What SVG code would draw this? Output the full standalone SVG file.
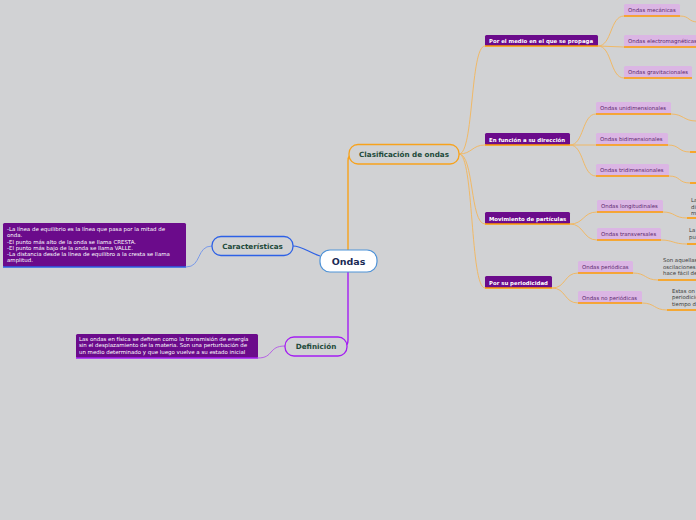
<svg xmlns="http://www.w3.org/2000/svg" width="696" height="520" viewBox="0 0 696 520">
<style>
text{font-family:"DejaVu Sans","Liberation Sans",sans-serif}
.main{fill:#d1d2d4;stroke-width:1.3}
.mt{font-weight:bold;fill:#1d4a3a;font-size:7.2px}
.l2 rect{fill:#6b0b8b}
.l2 text{fill:#fff;font-weight:bold;font-size:5.4px}
.l3 rect{fill:#dbb6e4}
.l3 text{fill:#5b2a6e;font-size:5.4px}
.ul{stroke:#ff9a00;stroke-width:1.6}
.thin{fill:none;stroke:#f3b55a;stroke-width:0.9}
.box text{fill:#fff;font-size:5.45px}
.l4 text{fill:#3a3a3a;font-size:5.4px}
</style>
<rect width="696" height="520" fill="#d1d2d4"/>
<g id="connectors">
<path d="M348,250 V161 Q348,154 354,154" fill="none" stroke="#f7a21c" stroke-width="1.4"/>
<path d="M348,272 V340 Q348,346 344,346" fill="none" stroke="#a41ef2" stroke-width="1.4"/>
<path d="M320,256 C308,252 302,246 293,246" fill="none" stroke="#2d61e6" stroke-width="1.2"/>
<path d="M186,267 C202,267 196,246 212,246" fill="none" stroke="#6f93ea" stroke-width="0.9"/>
<path d="M258,358 C274,358 268,346 285,346" fill="none" stroke="#b254e6" stroke-width="0.9"/>
<path class="thin" d="M459,154 C474,154 470,46 485,46"/>
<path class="thin" d="M459,154 C472,154 472,145 485,145"/>
<path class="thin" d="M459,154 C474,154 470,224 485,224"/>
<path class="thin" d="M459,154 C474,154 470,288 485,288"/>
<path class="thin" d="M598,46 C612,46 610,16 624,16"/>
<path class="thin" d="M598,46 L624,47"/>
<path class="thin" d="M598,46 C612,46 610,78 624,78"/>
<path class="thin" d="M570,145 C584,145 582,114 596,114"/>
<path class="thin" d="M570,145 L596,145"/>
<path class="thin" d="M570,145 C584,145 582,176 596,176"/>
<path class="thin" d="M570,224 C584,224 583,212 597,212"/>
<path class="thin" d="M570,224 C584,224 583,240 597,240"/>
<path class="thin" d="M552,288 C566,288 564,273 578,273"/>
<path class="thin" d="M552,288 C566,288 564,303 578,303"/>
<path class="thin" d="M680,16 C690,16 688,22 698,22"/>
<path class="thin" d="M671,114 C683,114 684,121 696,121"/>
<path class="thin" d="M668,145 C680,145 678,152 690,152"/>
<path class="thin" d="M669,176 C681,176 678,183 690,183"/>
<path class="thin" d="M663,212 C675,212 674,218 687,218"/>
<path class="thin" d="M661,240 C673,240 673,244 687,244"/>
<path class="thin" d="M633,273 C646,273 645,280 658,280"/>
<path class="thin" d="M642,303 C655,303 654,310 667,310"/>
</g>
<g id="n-ondas"><rect x="320" y="250" width="57" height="22" rx="10" fill="#fff" stroke="#4f93d8" stroke-width="1.2"/><text x="348.5" y="264.5" text-anchor="middle" font-weight="bold" font-size="9.5" fill="#1a2a55">Ondas</text></g>
<g id="n-clasificacion"><rect class="main" x="349" y="144.5" width="110" height="19.5" rx="9" stroke="#f7a21c"/><text class="mt" x="404" y="157" text-anchor="middle">Clasificación de ondas</text></g>
<g id="n-caracteristicas"><rect class="main" x="212" y="236.5" width="81" height="19" rx="9" stroke="#2d61e6"/><text class="mt" x="252.5" y="248.5" text-anchor="middle">Características</text></g>
<g id="n-definicion"><rect class="main" x="285" y="337" width="62" height="19" rx="9" stroke="#a41ef2"/><text class="mt" x="316" y="349" text-anchor="middle">Definición</text></g>
<g id="n-caract-text" class="box"><rect x="3" y="223" width="183" height="44" rx="1.5" fill="#6b0b8b"/><line x1="3" y1="267" x2="186" y2="267" stroke="#2d61e6" stroke-width="1.5"/>
<text x="7" y="231">-La línea de equilibrio es la línea que pasa por la mitad de</text>
<text x="7" y="237">onda.</text>
<text x="7" y="243.5">-El punto más alto de la onda se llama CRESTA.</text>
<text x="7" y="249.5">-El punto más bajo de la onda se llama VALLE.</text>
<text x="7" y="256">-La distancia desde la línea de equilibro a la cresta se llama</text>
<text x="7" y="262">amplitud.</text></g>
<g id="n-def-text" class="box"><rect x="76" y="334" width="182" height="24" rx="1.5" fill="#6b0b8b"/><line x1="76" y1="358" x2="258" y2="358" stroke="#a41ef2" stroke-width="1.5"/>
<text x="79" y="341">Las ondas en física se definen como la transmisión de energía</text>
<text x="79" y="347.3">sin el desplazamiento de la materia. Son una perturbación de</text>
<text x="79" y="353.6">un medio determinado y que luego vuelve a su estado inicial</text></g>
<g id="n-medio" class="l2"><rect x="485" y="35" width="113" height="11" rx="1.5"/><line class="ul" x1="485" y1="46" x2="598" y2="46"/><text x="489" y="42.5">Por el medio en el que se propaga</text></g>
<g id="n-direccion" class="l2"><rect x="485" y="133" width="85" height="12" rx="1.5"/><line class="ul" x1="485" y1="145" x2="570" y2="145"/><text x="489" y="141.5">En función a su dirección</text></g>
<g id="n-movimiento" class="l2"><rect x="485" y="212" width="85" height="12" rx="1.5"/><line class="ul" x1="485" y1="224" x2="570" y2="224"/><text x="489" y="220.5">Movimiento de partículas</text></g>
<g id="n-periodicidad" class="l2"><rect x="485" y="276" width="67" height="12" rx="1.5"/><line class="ul" x1="485" y1="288" x2="552" y2="288"/><text x="489" y="284.5">Por su periodicidad</text></g>
<g id="n-mecanicas" class="l3"><rect x="624" y="4" width="56" height="12" rx="1.5"/><line class="ul" x1="624" y1="16" x2="680" y2="16"/><text x="628" y="12">Ondas mecánicas</text></g>
<g id="n-electro" class="l3"><rect x="624" y="35" width="80" height="12" rx="1.5"/><line class="ul" x1="624" y1="47" x2="704" y2="47"/><text x="628" y="43">Ondas electromagnéticas</text></g>
<g id="n-gravit" class="l3"><rect x="624" y="66" width="68" height="12" rx="1.5"/><line class="ul" x1="624" y1="78" x2="692" y2="78"/><text x="628" y="74">Ondas gravitacionales</text></g>
<g id="n-uni" class="l3"><rect x="596" y="102" width="75" height="12" rx="1.5"/><line class="ul" x1="596" y1="114" x2="671" y2="114"/><text x="600" y="110">Ondas unidimensionales</text></g>
<g id="n-bi" class="l3"><rect x="596" y="133" width="72" height="12" rx="1.5"/><line class="ul" x1="596" y1="145" x2="668" y2="145"/><text x="600" y="141">Ondas bidimensionales</text></g>
<g id="n-tri" class="l3"><rect x="596" y="164" width="73" height="12" rx="1.5"/><line class="ul" x1="596" y1="176" x2="669" y2="176"/><text x="600" y="172">Ondas tridimensionales</text></g>
<g id="n-long" class="l3"><rect x="597" y="200" width="66" height="12" rx="1.5"/><line class="ul" x1="597" y1="212" x2="663" y2="212"/><text x="601" y="208">Ondas longitudinales</text></g>
<g id="n-trans" class="l3"><rect x="597" y="228" width="64" height="12" rx="1.5"/><line class="ul" x1="597" y1="240" x2="661" y2="240"/><text x="601" y="236">Ondas transversales</text></g>
<g id="n-periodicas" class="l3"><rect x="578" y="261" width="55" height="12" rx="1.5"/><line class="ul" x1="578" y1="273" x2="633" y2="273"/><text x="582" y="269">Ondas periódicas</text></g>
<g id="n-noperiodicas" class="l3"><rect x="578" y="291" width="64" height="12" rx="1.5"/><line class="ul" x1="578" y1="303" x2="642" y2="303"/><text x="582" y="299.5">Ondas no periódicas</text></g>
<g id="n-bi-sub"><line class="ul" x1="690" y1="152" x2="700" y2="152"/></g>
<g id="n-tri-sub"><line class="ul" x1="690" y1="183" x2="700" y2="183"/></g>
<g id="n-long-sub" class="l4"><line class="ul" x1="687" y1="218" x2="700" y2="218"/><text x="691" y="202">La</text><text x="691" y="208.5">di</text><text x="691" y="215">m</text></g>
<g id="n-trans-sub" class="l4"><line class="ul" x1="687" y1="244" x2="700" y2="244"/><text x="689" y="232">La</text><text x="689" y="238.5">pu</text></g>
<g id="n-per-sub" class="l4"><line class="ul" x1="658" y1="280" x2="700" y2="280"/><text x="663" y="262">Son aquellas</text><text x="663" y="268.5">oscilaciones</text><text x="663" y="275">hace fácil de</text></g>
<g id="n-noper-sub" class="l4"><line class="ul" x1="667" y1="310" x2="700" y2="310"/><text x="672" y="292.5">Estas on</text><text x="672" y="299">periodicid</text><text x="672" y="305.5">tiempo d</text></g>
</svg>
